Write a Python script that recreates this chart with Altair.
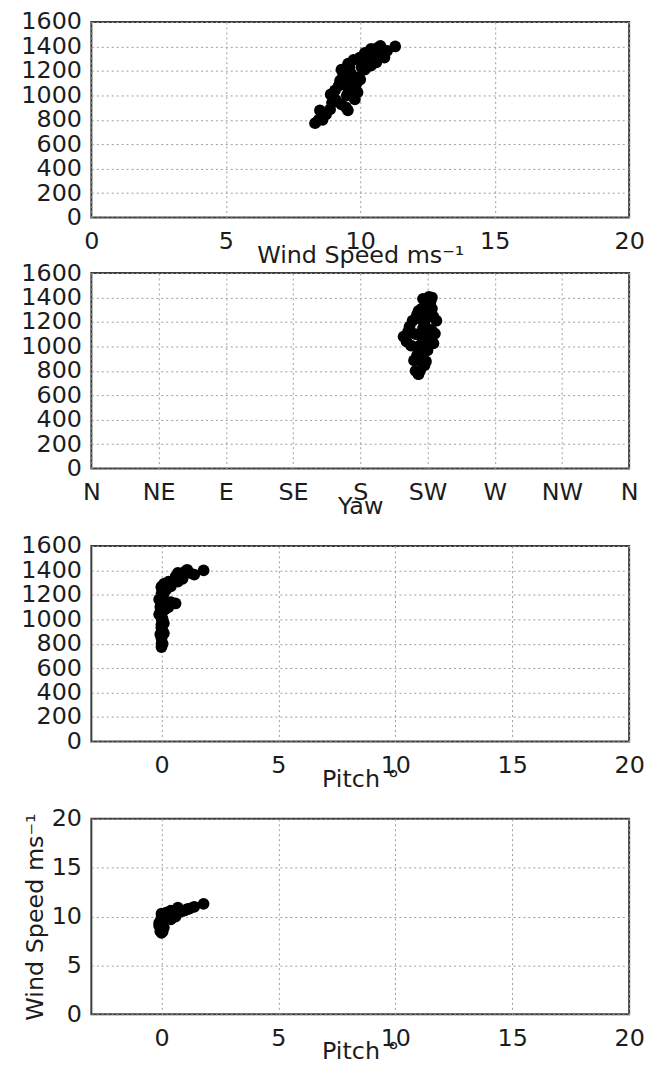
import json
import altair as alt
import pandas as pd

# ---- data (one row per sample) ----
wind_speed = [8.32, 8.45, 8.50, 8.73, 8.88, 8.90, 9.06, 9.30, 9.47, 9.54,
              9.80, 9.90, 9.36, 9.30, 9.60, 9.65, 9.47, 9.83, 10.00, 9.70,
              10.30, 9.98, 10.17, 10.40, 10.17, 10.35, 10.50, 10.64, 10.75, 10.90,
              11.00, 11.30, 9.10, 9.20, 9.50, 9.65, 9.95, 10.05, 9.75, 10.25,
              8.60, 8.95, 9.40, 9.70, 10.55, 10.80, 10.40, 9.55, 10.60, 9.25,
              9.85, 9.60]
power = [772, 800, 877, 845, 885, 1007, 1040, 926, 902, 877,
         967, 1024, 1162, 1210, 1227, 1105, 1080, 1080, 1129, 1140,
         1267, 1308, 1210, 1243, 1348, 1308, 1365, 1389, 1405, 1308,
         1365, 1400, 960, 1080, 1000, 1180, 1150, 1230, 1290, 1290,
         800, 940, 1100, 1020, 1330, 1380, 1380, 1260, 1270, 1120,
         1100, 1040]
yaw = [219, 217, 221, 223, 216, 214, 211, 218, 222, 224,
       225, 229, 213, 215, 220, 230, 209, 227, 228, 226,
       222, 221, 231, 229, 224, 226, 227, 222, 226, 228,
       227, 228, 220, 221, 219, 223, 222, 224, 219, 223,
       220, 219, 217, 221, 225, 224, 223, 218, 225, 212,
       224, 222]
pitch = [0.0, 0.05, -0.05, 0.0, 0.1, 0.0, -0.1, 0.0, 0.05, 0.0,
         0.1, 0.0, -0.1, 0.0, 0.1, 0.0, 0.0, 0.15, 0.6, 0.4,
         0.0, 0.3, 0.1, 0.2, 0.6, 0.5, 0.8, 1.0, 1.1, 0.7,
         1.4, 1.8, 0.0, 0.0, 0.05, 0.0, 0.1, 0.05, 0.1, 0.2,
         0.0, 0.0, -0.05, 0.0, 0.9, 1.2, 0.7, 0.0, 0.4, 0.0,
         0.3, 0.0]

power_ticks = [0, 200, 400, 600, 800, 1000, 1200, 1400, 1600]
ws_ticks = [0, 5, 10, 15, 20]
pitch_ticks = [0, 5, 10, 15, 20]
yaw_ticks = [0, 45, 90, 135, 180, 225, 270, 315, 360]
yaw_labels = ["N", "NE", "E", "SE", "S", "SW", "W", "NW", "N"]

df = pd.DataFrame({"ws": wind_speed, "power": power, "yaw": yaw, "pitch": pitch})

FONT = "DejaVu Sans"
FS = 24
TXT = "#1c1c1c"
W = 542
H = 197


def x_axis(values, title, **kw):
    return alt.Axis(values=values, title=title, grid=True, gridColor="#9c9c9c",
                    gridDash=[2, 3], gridWidth=1, ticks=False, domain=False,
                    labelFont=FONT, labelFontSize=FS, labelColor=TXT,
                    labelPadding=12, labelOverlap=False, labelFlush=False,
                    titleFont=FONT, titleFontSize=FS, titleColor=TXT,
                    titleFontWeight="normal", titlePadding=-10, **kw)


def y_axis(values, title=None):
    kw = {}
    if title is not None:
        kw["title"] = title
        kw["titlePadding"] = 4
    else:
        kw["title"] = None
    return alt.Axis(values=values, format="d", grid=True, gridColor="#9c9c9c",
                    gridDash=[2, 3], gridWidth=1, ticks=False, domain=False,
                    labelFont=FONT, labelFontSize=FS, labelColor=TXT,
                    labelPadding=10, labelOverlap=False, labelFlush=False,
                    titleFont=FONT, titleFontSize=FS, titleColor=TXT,
                    titleFontWeight="normal", **kw)


def panel(xfield, xdomain, xaxis, yfield, ydomain, yaxis):
    return alt.Chart(df).mark_circle(size=140, color="black", opacity=1).encode(
        x=alt.X(f"{xfield}:Q", scale=alt.Scale(domain=xdomain, nice=False, zero=False), axis=xaxis),
        y=alt.Y(f"{yfield}:Q", scale=alt.Scale(domain=ydomain, nice=False), axis=yaxis),
    ).properties(width=W, height=H)


yaw_expr = json.dumps(yaw_labels) + "[round(datum.value / 45)]"

p1 = panel("ws", [0, 20], x_axis(ws_ticks, "Wind Speed ms\u207b\u00b9"),
           "power", [0, 1600], y_axis(power_ticks))
p2 = panel("yaw", [0, 360], x_axis(yaw_ticks, "Yaw", labelExpr=yaw_expr),
           "power", [0, 1600], y_axis(power_ticks))
p3 = panel("pitch", [-3, 20], x_axis(pitch_ticks, "Pitch \u00b0"),
           "power", [0, 1600], y_axis(power_ticks))
p4 = panel("pitch", [-3, 20], x_axis(pitch_ticks, "Pitch \u00b0"),
           "ws", [0, 20], y_axis(ws_ticks, "Wind Speed ms\u207b\u00b9"))

rest = alt.vconcat(p2, p3, p4, spacing=78, bounds="flush")
chart = alt.vconcat(p1, rest, spacing=56, bounds="flush").properties(
    padding={"left": 11, "top": -3, "right": 0, "bottom": 0}
).configure_view(stroke="#3c3c3c", strokeWidth=2)

chart.save("out.html", embed_options={"renderer": "svg", "actions": False})
